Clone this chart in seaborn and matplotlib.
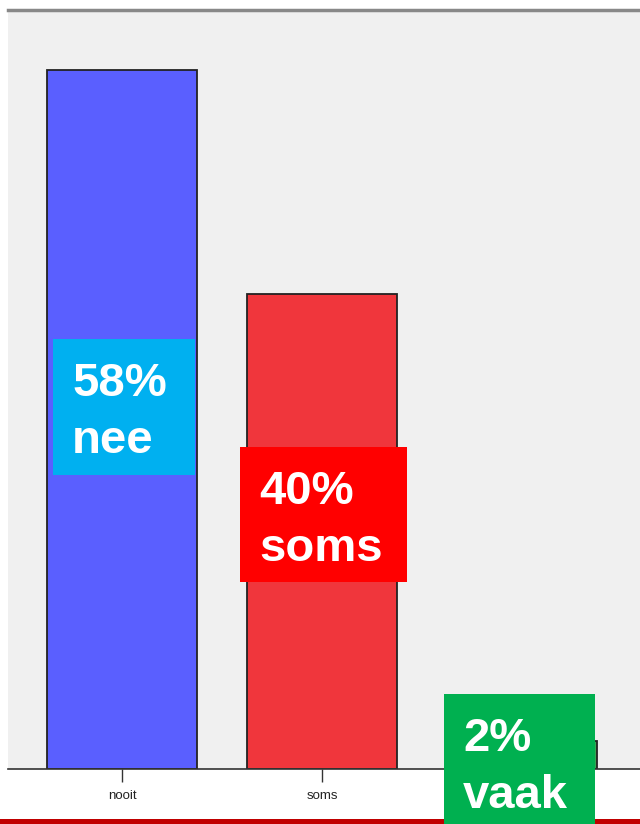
import matplotlib
matplotlib.use("Agg")
import matplotlib.pyplot as plt
import seaborn as sns
import pandas as pd
from matplotlib.patches import Rectangle

categories = ["nooit", "soms", "vaak"]
values = [58.0, 39.4, 2.3]
bar_colors = ["#5a5fff", "#f0363c", "#3aa655"]
label_texts = ["58%\nnee", "40%\nsoms", "2%\nvaak"]
label_colors = ["#00b0f0", "#ff0000", "#00b050"]

sns.set_theme(style="white")
plt.rcParams['font.family'] = ['Liberation Sans', 'DejaVu Sans']

W, H = 640, 824
fig = plt.figure(figsize=(W / 100, H / 100), dpi=100)
ax = fig.add_axes([8 / W, (H - 769) / H, 632 / W, 759 / H])
ax.set_facecolor("#f0f0f0")

df = pd.DataFrame({"cat": categories, "val": values})
sns.barplot(data=df, x="cat", y="val", hue="cat", palette=bar_colors,
            width=0.75, edgecolor="#222222", linewidth=1.3, legend=False, ax=ax,
            saturation=1)

ax.set_xlim(-0.57, 2.59)
ax.set_ylim(0, 63)
ax.set_xlabel("")
ax.set_ylabel("")
ax.set_yticks([])
for s in ["left", "right"]:
    ax.spines[s].set_visible(False)
ax.spines["top"].set_color("#888888")
ax.spines["top"].set_linewidth(2.5)
ax.spines["bottom"].set_color("#333333")
ax.spines["bottom"].set_linewidth(1.2)
ax.tick_params(axis="x", bottom=True, length=9, width=1, color="#333333",
               labelsize=9.5, pad=6, labelcolor="#222222")

# label boxes (pixel coords: x0, y0_top, x1, y1_bottom)
boxes = [(53, 339, 195, 475), (240, 447, 407, 582), (444, 694, 595, 824)]
for (x0, y0, x1, y1), txt, col in zip(boxes, label_texts, label_colors):
    fig.patches.append(Rectangle((x0 / W, 1 - y1 / H), (x1 - x0) / W, (y1 - y0) / H,
                                 transform=fig.transFigure, facecolor=col,
                                 edgecolor="none", zorder=5))
    fig.text((x0 + 19) / W, 1 - (y0 + 23) / H, txt, color="white",
             fontsize=34, fontweight="bold", va="top", ha="left",
             linespacing=1.38, zorder=6)

# bottom red line
fig.patches.append(Rectangle((0, 0), 1, 5 / H, transform=fig.transFigure,
                             facecolor="#c00000", edgecolor="none", zorder=4))

fig.savefig("out.png", dpi=100)
